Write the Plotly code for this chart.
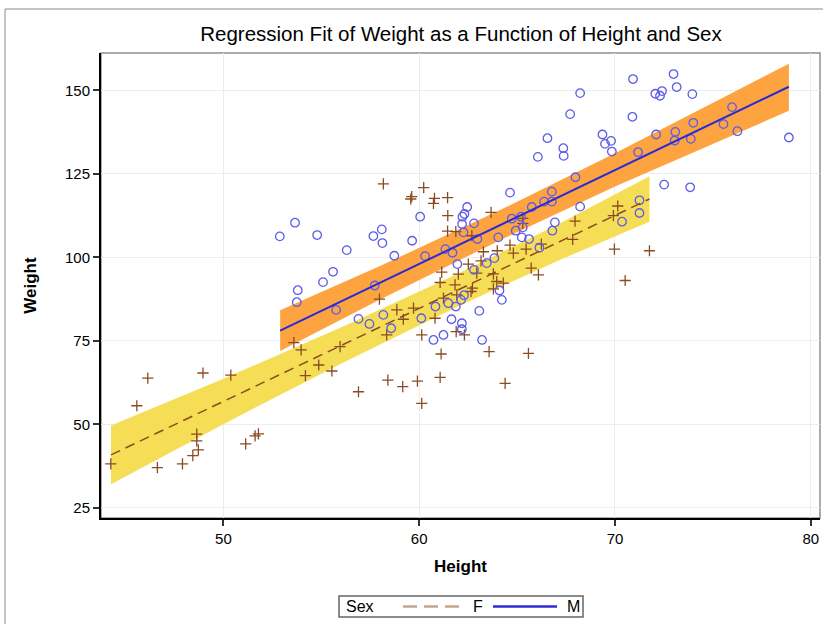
import plotly.graph_objects as go

# ---------------- data ----------------
f_height = [53.6, 53.97, 54.19, 54.87, 55.54, 46.14, 48.96, 50.38, 55.96, 45.58,
            44.25, 46.63, 47.91, 48.44, 48.72, 48.64, 48.64, 51.14, 51.62, 51.79,
            61.45, 61.87, 62.69, 64.64, 63.28, 63.99, 64.81, 65.46, 66.24, 65.29,
            63.16, 62.51, 61.15, 62.00, 61.07, 61.83, 62.94, 63.79, 63.96, 64.30,
            63.79, 62.72, 62.65, 61.92, 61.24, 57.97, 58.86, 59.71, 59.19, 58.34,
            60.81, 60.13, 61.89, 62.31, 61.12, 63.57, 65.58, 66.09, 65.72, 56.90,
            58.40, 59.16, 59.91, 61.07, 64.39, 60.13, 58.17, 60.23, 59.62, 59.57,
            60.78, 60.73, 61.45, 61.46, 63.67, 65.29, 70.14, 69.92, 67.96, 67.84,
            69.97, 71.76, 70.52]
f_weight = [74.5, 72.3, 64.6, 67.8, 66.0, 63.9, 65.4, 64.8, 73.3, 55.6,
            38.2, 37.1, 38.2, 40.7, 42.4, 45.1, 47.1, 44.2, 46.6, 47.2,
            107.9, 107.7, 106.5, 103.7, 101.7, 102.0, 101.3, 102.5, 104.0, 110.2,
            99.0, 98.0, 95.6, 95.0, 92.5, 91.8, 95.3, 95.1, 92.8, 92.3,
            90.6, 90.8, 89.8, 88.8, 87.8, 87.5, 84.3, 84.8, 81.5, 76.8,
            81.8, 76.8, 77.8, 76.8, 71.1, 71.8, 71.3, 94.8, 96.8, 59.8,
            63.3, 61.3, 63.0, 64.1, 62.3, 56.3, 122.0, 120.9, 118.2, 117.5,
            117.7, 116.2, 117.9, 112.5, 113.5, 111.7, 115.4, 112.5, 110.9, 105.4,
            102.5, 102.0, 93.1]

m_height = [52.88, 53.66, 54.79, 53.80, 53.75, 55.09, 55.60, 55.76, 58.09, 57.66,
            58.12, 59.64, 56.30, 58.73, 57.73, 56.90, 57.46, 58.17, 58.57, 60.11,
            60.30, 61.34, 61.70, 60.83, 61.49, 61.87, 61.65, 61.24, 60.73, 62.18,
            62.18, 62.14, 62.29, 63.07, 63.21, 61.95, 62.80, 63.45, 63.84, 64.10,
            64.22, 64.04, 62.97, 62.26, 62.19, 62.80, 64.93, 65.24, 65.61, 65.29,
            66.93, 66.80, 66.14, 60.05, 62.45, 62.31, 62.21, 64.64, 64.73, 65.20,
            65.75, 66.38, 66.77, 66.77, 66.06, 66.55, 67.36, 67.38, 67.71, 70.92,
            72.99, 73.15, 68.22, 72.06, 72.40, 72.30, 73.95, 70.89, 69.36, 69.49,
            69.80, 69.84, 72.10, 71.18, 73.08, 73.05, 74.00, 73.87, 75.54, 75.98,
            76.25, 78.88, 67.98, 72.51, 73.84, 68.22, 71.25, 71.25, 70.36]
m_weight = [106.3, 110.4, 106.7, 90.2, 86.6, 92.6, 95.7, 84.3, 108.4, 106.4,
            104.3, 105.0, 102.2, 100.5, 91.6, 81.6, 80.1, 82.8, 78.8, 81.8,
            100.4, 102.5, 101.4, 85.3, 86.3, 85.3, 81.5, 76.8, 75.3, 80.3,
            78.5, 87.3, 88.7, 84.0, 75.3, 98.0, 96.3, 98.3, 99.8, 90.1,
            87.3, 106.0, 105.5, 107.5, 110.0, 110.2, 108.0, 106.0, 105.5, 109.0,
            110.5, 108.0, 102.9, 112.2, 115.1, 113.0, 112.2, 119.4, 111.6, 112.2,
            115.1, 116.7, 119.7, 116.7, 130.1, 135.7, 132.7, 130.4, 142.9, 153.4,
            154.9, 151.0, 149.2, 149.0, 149.8, 148.4, 148.9, 142.1, 136.8, 134.0,
            134.9, 131.7, 136.8, 131.5, 137.6, 135.0, 140.3, 135.5, 139.9, 145.0,
            137.8, 135.9, 124.0, 121.8, 121.0, 115.2, 117.1, 113.3, 110.7]

# fitted lines (end points)
f_fit_x = [44.26, 71.76]
f_fit_y = [40.9, 117.5]
m_fit_x = [52.9, 78.88]
m_fit_y = [78.1, 151.1]

# confidence bands (read at several heights)
f_band_x = [44.26, 50.0, 56.0, 62.0, 67.0, 71.76]
f_band_upper = [49.7, 63.7, 79.0, 95.2, 109.6, 124.3]
f_band_lower = [32.1, 50.1, 68.2, 85.4, 98.8, 110.7]
m_band_x = [52.9, 58.0, 64.0, 70.0, 78.88]
m_band_upper = [84.2, 97.4, 113.8, 131.2, 158.0]
m_band_lower = [72.0, 87.4, 104.8, 121.2, 143.9]

x_ticks = [50, 60, 70, 80]
y_ticks = [25, 50, 75, 100, 125, 150]
legend_title = "Sex"
legend_labels = ["F", "M"]

# ---------------- styling ----------------
FONT = "Liberation Sans, Arial, sans-serif"
ORANGE = "#FDA33F"
YELLOW = "#F5DE55"
BLUE_LINE = "#2B2BD6"
BLUE_MARK = "#5C5CE8"
BROWN = "#8A4B22"
TAN = "#C4A68A"

# plot area in pixels: x 101..820, y 53..518
L, R, T, B = 101, 820, 53, 518
W, H = 823, 624
def px(x):
    return (x - L) / (R - L)
def py(y):
    return (B - y) / (B - T)

fig = go.Figure()

# bands
fig.add_trace(go.Scatter(
    x=f_band_x + f_band_x[::-1], y=f_band_upper + f_band_lower[::-1],
    fill="toself", fillcolor=YELLOW, line=dict(width=0), mode="lines",
    hoverinfo="skip", showlegend=False))
fig.add_trace(go.Scatter(
    x=m_band_x + m_band_x[::-1], y=m_band_upper + m_band_lower[::-1],
    fill="toself", fillcolor=ORANGE, line=dict(width=0), mode="lines",
    hoverinfo="skip", showlegend=False))

# points
fig.add_trace(go.Scatter(
    x=f_height, y=f_weight, mode="markers", showlegend=False,
    marker=dict(symbol="cross-thin", size=8, line=dict(color=BROWN, width=1.3), color=BROWN)))
fig.add_trace(go.Scatter(
    x=m_height, y=m_weight, mode="markers", showlegend=False,
    marker=dict(symbol="circle-open", size=8.5, line=dict(color=BLUE_MARK, width=1.3), color=BLUE_MARK)))

# fit lines
fig.add_trace(go.Scatter(
    x=f_fit_x, y=f_fit_y, mode="lines", showlegend=False,
    line=dict(color=BROWN, width=1.5, dash="10px,6px")))
fig.add_trace(go.Scatter(
    x=m_fit_x, y=m_fit_y, mode="lines", showlegend=False,
    line=dict(color=BLUE_LINE, width=2)))

ly = 606.5
shapes = [
    dict(type="rect", xref="paper", yref="paper", x0=0, x1=1, y0=0, y1=1,
         line=dict(color="#909090", width=1.5), layer="below"),
    dict(type="line", xref="paper", yref="paper",
         x0=px(5), x1=px(830), y0=py(9), y1=py(9),
         line=dict(color="#8A8A8A", width=1)),
    dict(type="line", xref="paper", yref="paper",
         x0=px(5), x1=px(5), y0=py(9), y1=py(640),
         line=dict(color="#8A8A8A", width=1)),
    # legend box and samples
    dict(type="rect", xref="paper", yref="paper", x0=px(339), x1=px(583),
         y0=py(617), y1=py(596), line=dict(color="#666666", width=1.5),
         fillcolor="white"),
    dict(type="line", xref="paper", yref="paper", x0=px(403), x1=px(459),
         y0=py(ly), y1=py(ly), line=dict(color=TAN, width=2.5, dash="14px,7px")),
    dict(type="line", xref="paper", yref="paper", x0=px(493), x1=px(557),
         y0=py(ly), y1=py(ly), line=dict(color=BLUE_LINE, width=2.5)),
]
annotations = [
    dict(text=legend_title, xref="paper", yref="paper", x=px(344), y=py(ly),
         xanchor="left", yanchor="middle", showarrow=False,
         font=dict(family=FONT, size=16, color="black")),
    dict(text=legend_labels[0], xref="paper", yref="paper", x=px(471), y=py(ly),
         xanchor="left", yanchor="middle", showarrow=False,
         font=dict(family=FONT, size=16, color="black")),
    dict(text=legend_labels[1], xref="paper", yref="paper", x=px(565), y=py(ly),
         xanchor="left", yanchor="middle", showarrow=False,
         font=dict(family=FONT, size=16, color="black")),
]

fig.update_layout(
    width=W, height=H,
    margin=dict(l=L, r=W - R, t=T, b=H - B, autoexpand=False),
    paper_bgcolor="white", plot_bgcolor="white",
    font=dict(family=FONT, size=15, color="black"),
    title=dict(text="Regression Fit of Weight as a Function of Height and Sex",
               x=461 / W, xanchor="center", y=1 - 34 / H, yanchor="middle",
               font=dict(family=FONT, size=20.5, color="black")),
    showlegend=False,
    xaxis=dict(range=[43.75, 80.47], tickvals=x_ticks, showgrid=True,
               gridcolor="#ECECEC", gridwidth=1, zeroline=False,
               showline=True, linecolor="black", linewidth=2,
               ticks="outside", ticklen=6, tickcolor="#333333", tickwidth=1.5,
               tickfont=dict(size=15),
               title=dict(text="<b>Height</b>", font=dict(size=17), standoff=14)),
    yaxis=dict(range=[22.0, 161.2], tickvals=y_ticks, showgrid=True,
               gridcolor="#ECECEC", gridwidth=1, zeroline=False,
               showline=True, linecolor="black", linewidth=2,
               ticks="outside", ticklen=6, tickcolor="#333333", tickwidth=1.5,
               tickfont=dict(size=15),
               title=dict(text="<b>Weight</b>", font=dict(size=17), standoff=24)),
    shapes=shapes,
    annotations=annotations,
)

fig.write_html("out.html", config={"displayModeBar": False},
               post_script="document.body.style.margin='0';document.body.style.overflow='hidden';")
